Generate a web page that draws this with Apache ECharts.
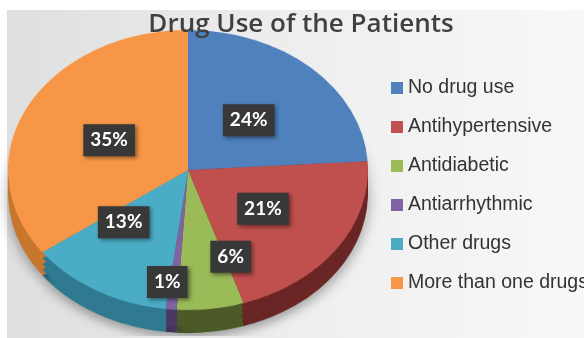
<!DOCTYPE html>
<html><head><meta charset="utf-8">
<script src="https://cdn.jsdelivr.net/npm/echarts@6/dist/echarts.min.js"></script>
<style>
html,body{margin:0;padding:0;background:#fff;}
#wrap{position:relative;width:584px;height:338px;overflow:hidden;background:#fff;}
#bg{position:absolute;left:7px;top:10px;width:577px;height:328px;background:linear-gradient(to right,#dfdfdf,#eeeeee 50%,#f8f8f8);}
#pie{position:absolute;left:0;top:0;width:584px;height:432px;transform:scaleY(0.7778);transform-origin:0 0;}
#top{position:absolute;left:0;top:0;width:584px;height:338px;}
</style></head>
<body><div id="wrap"><div id="bg"></div><div id="pie"></div><div id="top"></div></div>
<script>
const titleText = 'Drug Use of the Patients';
const categories = ['No drug use', 'Antihypertensive', 'Antidiabetic', 'Antiarrhythmic', 'Other drugs', 'More than one drugs'];
const values = [24, 21, 6, 1, 13, 35];

const topColors = ['#4F81BD', '#C0504D', '#9BBB59', '#8064A2', '#4BACC6', '#F79646'];
const sideColors = ['#2f4f7a', '#6a2624', '#4c5a28', '#4a3a63', '#2f7a90', '#c8772f'];

const K = 0.7778, CX = 188, CY = 170, R = 180, DEPTH = 23;
const cyA = CY / K;

// ---- elliptical pie (vertically squashed by CSS) ----
const pieChart = echarts.init(document.getElementById('pie'), null, {renderer: 'canvas'});
const sideSeries = [];
[1, 0.75, 0.5, 0.25].forEach(function (f, idx) {
  sideSeries.push({
    type: 'pie', silent: true, animation: false,
    center: [CX, cyA + DEPTH / K * f], radius: R, startAngle: 90,
    label: {show: false}, labelLine: {show: false},
    itemStyle: idx === 0 ? {shadowBlur: 14, shadowColor: 'rgba(0,0,0,0.35)', shadowOffsetY: 6} : {},
    data: categories.map(function (c, i) { return {name: c, value: values[i], itemStyle: {color: sideColors[i]}}; })
  });
});
pieChart.setOption({
  animation: false,
  series: sideSeries.concat([{
    type: 'pie', silent: true, animation: false,
    center: [CX, cyA], radius: R, startAngle: 90,
    label: {show: false}, labelLine: {show: false},
    data: categories.map(function (c, i) { return {name: c, value: values[i], itemStyle: {color: topColors[i]}}; })
  }])
});

// ---- title, legend, labels ----
const nudge = [[-3, 3], [-2, -2], [31, 15], [-12, 40], [-17, -10], [4, 3]];
const topChart = echarts.init(document.getElementById('top'), null, {renderer: 'canvas'});
topChart.setOption({
  animation: false,
  title: {
    text: titleText, left: 296, top: 7, textAlign: 'center',
    textStyle: {fontFamily: 'Open Sans', fontWeight: 600, fontSize: 26, color: '#404040'}
  },
  legend: {
    orient: 'vertical', left: 386, top: 73, itemWidth: 12, itemHeight: 12, itemGap: 19,
    icon: 'rect', data: categories,
    itemStyle: {opacity: 1},
    textStyle: {fontFamily: 'Liberation Sans', fontSize: 19.5, lineHeight: 20, color: '#333333'}
  },
  series: [{
    type: 'pie', center: [CX, CY], radius: R, startAngle: 90,
    itemStyle: {opacity: 0},
    emphasis: {disabled: true},
    labelLine: {show: false},
    label: {
      show: true, position: 'inside', opacity: 1,
      formatter: function (p) { return Math.round(p.percent) + '%'; },
      fontFamily: 'Lato', fontWeight: 'bold', fontSize: 19, lineHeight: 19, color: '#fff',
      backgroundColor: '#383838', padding: [7, 7, 6, 7],
      shadowBlur: 4, shadowColor: 'rgba(0,0,0,0.45)', shadowOffsetX: 2, shadowOffsetY: 2
    },
    labelLayout: function (p) {
      const r = p.labelRect;
      const lx = r.x + r.width / 2, ly = r.y + r.height / 2;
      const n = nudge[p.dataIndex];
      return {x: lx + n[0], y: CY + (ly - CY) * K + n[1]};
    },
    data: categories.map(function (c, i) { return {name: c, value: values[i], itemStyle: {color: topColors[i]}}; })
  }]
});
</script></body></html>
